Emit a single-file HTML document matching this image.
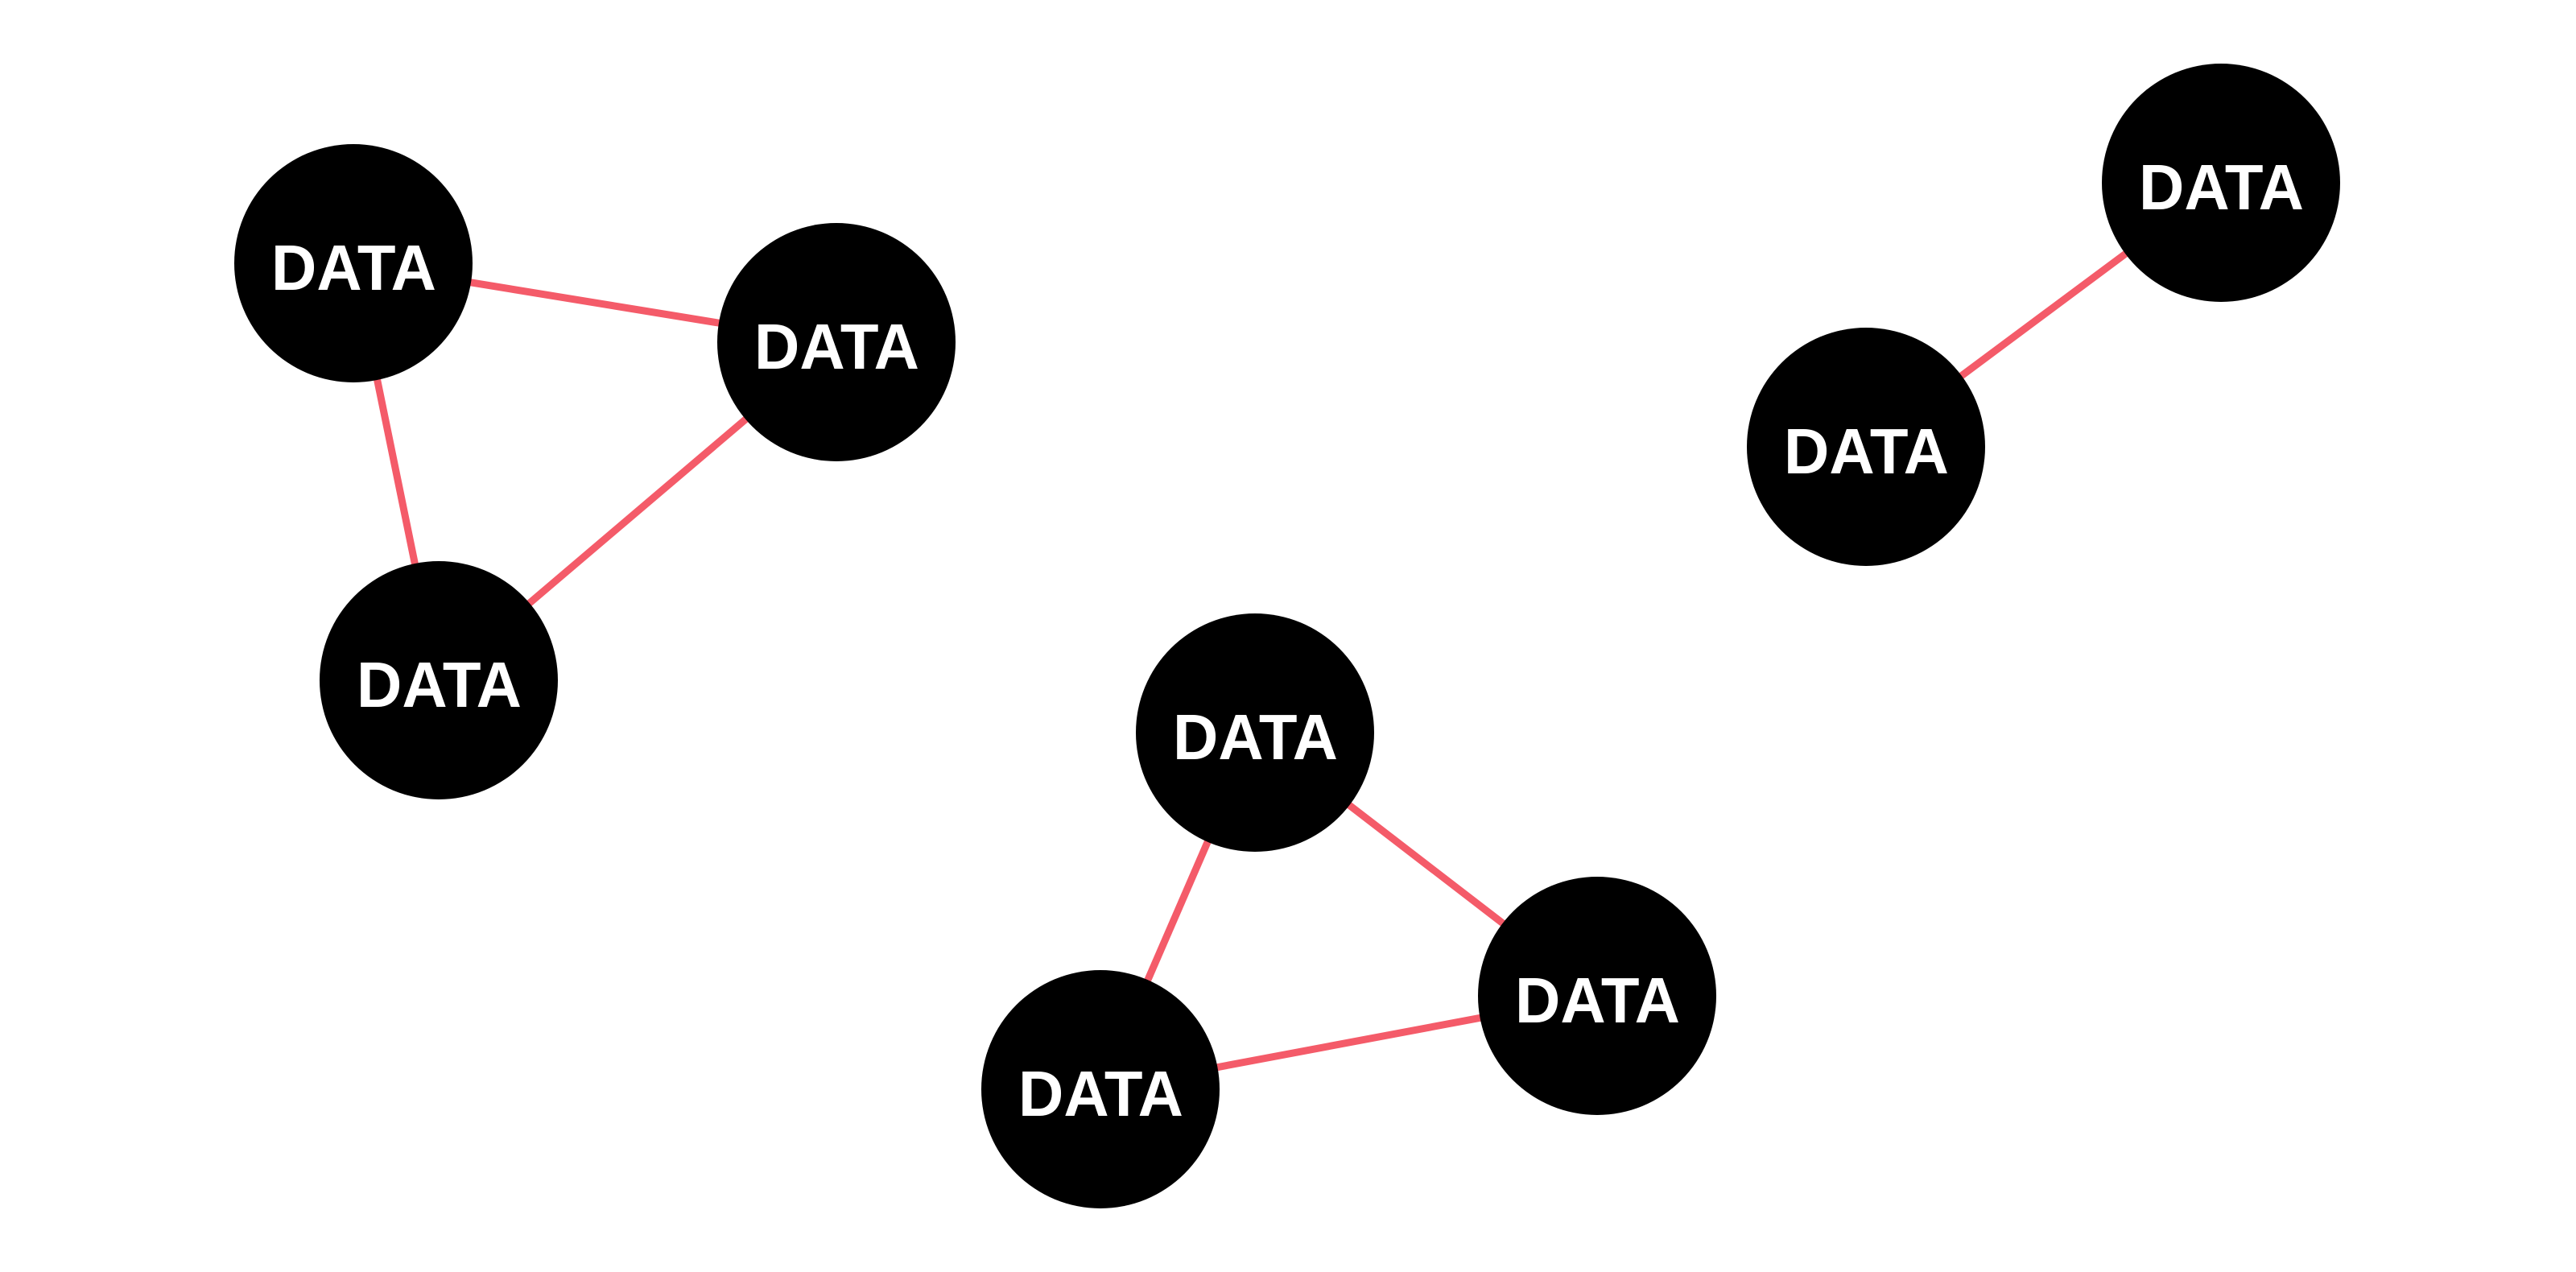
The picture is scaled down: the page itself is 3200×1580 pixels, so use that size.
<!DOCTYPE html>
<html><head><meta charset="utf-8"><style>
html,body{margin:0;padding:0;background:#fff;width:3200px;height:1580px;overflow:hidden}
text{font-family:"Liberation Sans",Arial,sans-serif;font-weight:bold;font-size:80px;fill:#fff}
</style></head><body>
<svg width="3200" height="1580" viewBox="0 0 3200 1580" xmlns="http://www.w3.org/2000/svg">
<g stroke="#f45b69" stroke-width="9">
<line x1="439" y1="327" x2="1039" y2="425"/>
<line x1="439" y1="327" x2="545" y2="845"/>
<line x1="1039" y1="425" x2="545" y2="845"/>
<line x1="2759" y1="227" x2="2318" y2="555"/>
<line x1="1559" y1="910" x2="1367" y2="1353"/>
<line x1="1559" y1="910" x2="1984" y2="1237"/>
<line x1="1984" y1="1237" x2="1367" y2="1353"/>
</g>
<g fill="#000">
<circle cx="439" cy="327" r="148"/>
<circle cx="1039" cy="425" r="148"/>
<circle cx="545" cy="845" r="148"/>
<circle cx="2759" cy="227" r="148"/>
<circle cx="2318" cy="555" r="148"/>
<circle cx="1559" cy="910" r="148"/>
<circle cx="1984" cy="1237" r="148"/>
<circle cx="1367" cy="1353" r="148"/>
</g>
<g>
<text x="337" y="360" textLength="205" lengthAdjust="spacingAndGlyphs">DATA</text>
<text x="937" y="458" textLength="205" lengthAdjust="spacingAndGlyphs">DATA</text>
<text x="443" y="878" textLength="205" lengthAdjust="spacingAndGlyphs">DATA</text>
<text x="2657" y="260" textLength="205" lengthAdjust="spacingAndGlyphs">DATA</text>
<text x="2216" y="588" textLength="205" lengthAdjust="spacingAndGlyphs">DATA</text>
<text x="1457" y="943" textLength="205" lengthAdjust="spacingAndGlyphs">DATA</text>
<text x="1882" y="1270" textLength="205" lengthAdjust="spacingAndGlyphs">DATA</text>
<text x="1265" y="1386" textLength="205" lengthAdjust="spacingAndGlyphs">DATA</text>
</g>
</svg>
</body></html>
